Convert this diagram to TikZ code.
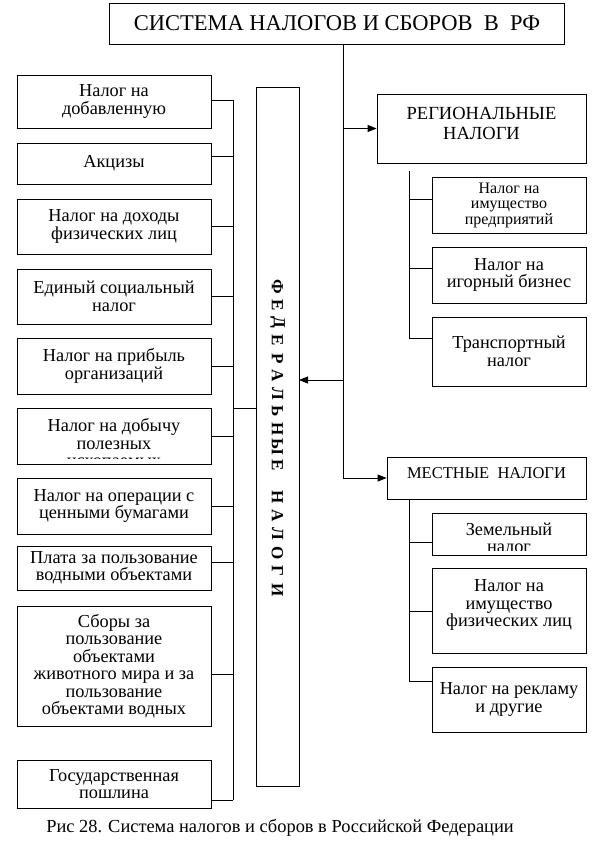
\documentclass[tikz,border=0pt]{standalone}
\usepackage{fontspec}
\setmainfont{Liberation Serif}
\usetikzlibrary{arrows.meta}
\newcommand\boxfont{\fontsize{18.3}{17.5}\selectfont}
\tikzset{
>={Triangle[length=9pt,width=7pt]}, % filled arrow heads
conn/.style={line width=0.8pt},
taxbox/.style={draw, line width=0.8pt, inner sep=0pt, align=center, font=\boxfont},
lbox/.style={taxbox, minimum width=194pt}, % federal taxes, left column
sbox/.style={taxbox, minimum width=154pt}, % regional and local taxes
boxtext/.style={inner sep=0pt, align=center, font=\boxfont},
fedletter/.style={inner sep=0pt, rotate=-90, font=\bfseries\fontsize{17}{17}\selectfont},
}

\begin{document}
\begin{tikzpicture}[x=1pt, y=-1pt]
\useasboundingbox (0,0) rectangle (602,843);
% top
\node[taxbox, minimum width=455pt, minimum height=41pt, font=\fontsize{22.5}{24}\selectfont] (sys) at (337,23.5) {СИСТЕМА НАЛОГОВ И СБОРОВ~~В~~РФ};
% federal taxes
\node[lbox, minimum height=53pt] (nds) at (114,101.5) {Налог на\\добавленную};
\node[lbox, minimum height=41pt] (akc) at (114,163.5) {Акцизы};
\node[lbox, minimum height=55pt] (ndfl) at (114,226.5) {Налог на доходы\\физических лиц};
\node[lbox, minimum height=55pt] (esn) at (114,296.5) {Единый социальный\\налог};
\node[lbox, minimum height=56pt] (prib) at (114,366) {Налог на прибыль\\организаций};
\node[lbox, minimum height=56pt] (dob) at (114,436) {};
\begin{scope}
\clip (17,408) rectangle (211,458);
\node[boxtext] (dobT) at (114,443) {Налог на добычу\\полезных\\ископаемых};
\end{scope}
\node[lbox, minimum height=56pt] (oper) at (114,506) {Налог на операции с\\ценными бумагами};
\node[lbox, minimum height=44pt] (voda) at (114,568) {Плата за пользование\\водными объектами};
\node[lbox, minimum height=120pt] (sbor) at (114,666) {Сборы за\\пользование\\объектами\\животного мира и за\\пользование\\объектами водных};
\node[lbox, minimum height=48pt] (gos) at (114,784) {Государственная\\пошлина};
\node[taxbox, minimum width=43pt, minimum height=699pt] (fed) at (277.5,436.5) {};
\foreach \ch [count=\i from 0] in {Ф,Е,Д,Е,Р,А,Л,Ь,Н,Ы,Е}
  \node[fedletter] (fa\i) at (277.5,287+17.8*\i) {\ch};
\foreach \ch [count=\i from 0] in {Н,А,Л,О,Г,И}
  \node[fedletter] (fb\i) at (277.5,497+18.6*\i) {\ch};
% regional taxes
\node[taxbox, minimum width=209pt, minimum height=69pt] (reg) at (481.5,128.5) {};
\node[boxtext, font=\fontsize{18.5}{20}\selectfont] (regT) at (481.5,123) {РЕГИОНАЛЬНЫЕ\\НАЛОГИ};
\node[sbox, minimum height=56pt, font=\fontsize{16}{15.5}\selectfont] (imp) at (509,205) {Налог на\\имущество\\предприятий};
\node[sbox, minimum height=56pt] (igr) at (509,275) {Налог на\\игорный бизнес};
\node[sbox, minimum height=69pt] (trn) at (509,351.5) {Транспортный\\налог};
% local taxes
\node[taxbox, minimum width=199pt, minimum height=42pt] (loc) at (486.5,478) {};
\node[boxtext, font=\fontsize{16.5}{17}\selectfont] (locT) at (486.5,473) {МЕСТНЫЕ~~НАЛОГИ};
\node[sbox, minimum height=42pt] (zem) at (509,534) {};
\begin{scope}
\clip (432,513) rectangle (586,550);
\node[boxtext] (zemT) at (509,538) {Земельный\\налог};
\end{scope}
\node[sbox, minimum height=85pt] (imf) at (509,610.5) {};
\node[boxtext] (imfT) at (509,605) {Налог на\\имущество\\физических лиц};
\node[sbox, minimum height=65pt] (rek) at (509,699.5) {Налог на рекламу\\и другие};
% caption
\node[font=\fontsize{18.4}{20}\selectfont] (cap) at (280,828) {Рис 28. Система налогов и сборов в Российской Федерации};
% connectors
\coordinate (trunk) at (343,478);
\coordinate (fedin) at (299,380);
\coordinate (lbr) at (233,100);
\coordinate (rbr) at (409,171);
\draw[conn, ->] (sys.south -| trunk) -- (trunk) -- (loc.west);
\draw[conn, ->] (trunk |- reg.west) -- (reg.west);
\draw[conn, ->] (trunk |- fedin) -- (fedin);
\draw[conn] (lbr) -- (lbr |- 0,800);
\foreach \b/\y in {nds/100, akc/156, ndfl/226, esn/296, prib/366, dob/436, oper/506, voda/562, sbor/674, gos/800}
  \draw[conn] (\b.east |- 0,\y) -- (lbr |- 0,\y);
\draw[conn] (lbr |- 0,408) -- (fed.west |- 0,408);
\draw[conn] (rbr) |- (trn.west |- 0,338);
\draw[conn] (rbr |- 0,199) -- (imp.west |- 0,199);
\draw[conn] (rbr |- 0,268) -- (igr.west |- 0,268);
\draw[conn] (loc.south -| rbr) |- (rek.west |- 0,681);
\draw[conn] (rbr |- 0,542) -- (zem.west |- 0,542);
\draw[conn] (rbr |- 0,611) -- (imf.west |- 0,611);
\end{tikzpicture}
\end{document}
